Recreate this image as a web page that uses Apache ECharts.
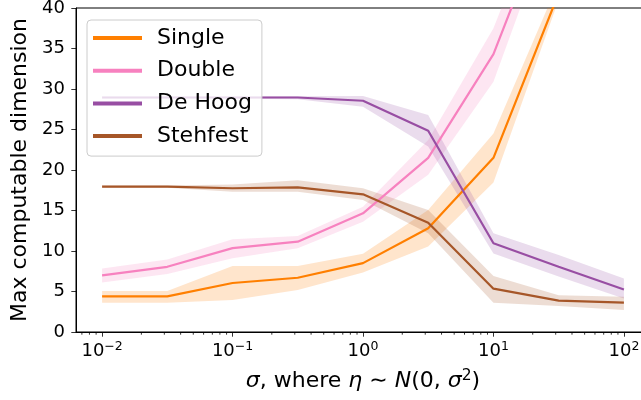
<!DOCTYPE html>
<html>
<head>
<meta charset="utf-8">
<script src="https://cdn.jsdelivr.net/npm/echarts@6/dist/echarts.min.js"></script>
<style>
  html, body { margin: 0; padding: 0; background: #fff; }
  #chart { width: 641px; height: 400px; }
</style>
</head>
<body>
<div id="chart"></div>
<script>
// noise levels (sigma)
const sigmas = [0.01, 0.0316, 0.1, 0.316, 1, 3.16, 10, 31.6, 100]

// mean lines
const singleMean = [4.4, 4.4, 6.05, 6.7, 8.5, 12.8, 21.5, 41.8, 60]
const doubleMean = [7.0, 8.05, 10.35, 11.15, 14.65, 21.5, 34.3, 55, 70]
const deHoogMean = [28.95, 28.95, 28.95, 28.95, 28.55, 24.85, 10.95, 8.05, 5.25]
const stehfestMean = [17.95, 17.95, 17.75, 17.85, 17.0, 13.5, 5.35, 3.87, 3.62]

// shaded bands (lower / upper)
const singleLow = [3.62, 3.62, 3.95, 5.2, 7.35, 10.55, 18.45, 41, 58]
const singleHigh = [5.05, 5.05, 8.15, 8.15, 9.65, 15.05, 24.5, 43.2, 62]
const doubleLow = [6.1, 7.15, 9.1, 10.35, 13.6, 19.4, 30.9, 53, 68]
const doubleHigh = [7.85, 8.95, 11.45, 11.85, 15.45, 23.7, 37.5, 58, 72]
const deHoogLow = [28.8, 28.8, 28.8, 28.75, 27.8, 22.9, 9.7, 6.85, 4.15]
const deHoogHigh = [29.1, 29.1, 29.1, 29.1, 29.15, 26.8, 12.2, 9.5, 6.6]
const stehfestLow = [17.8, 17.8, 17.3, 17.3, 16.3, 12.2, 3.62, 3.2, 2.72]
const stehfestHigh = [18.1, 18.1, 18.2, 18.75, 17.75, 15.05, 6.9, 4.55, 4.35]

const seriesNames = ['Single', 'Double', 'De Hoog', 'Stehfest']
const colors = ['#ff7f00', '#f781bf', '#984ea3', '#a65628']
const bandColors = ['rgba(255,127,0,0.2)', 'rgba(247,129,191,0.2)', 'rgba(152,78,163,0.2)', 'rgba(166,86,40,0.2)']

// y ticks
const yTickStep = 5
// minor log ticks on x
const minorTicks = []
for (let k = -3; k <= 2; k++) {
  for (let m = 2; m <= 9; m++) {
    const v = m * Math.pow(10, k)
    if (v > Math.pow(10, -2.2) && v < Math.pow(10, 2.2)) minorTicks.push(v)
  }
}

const font = 'DejaVu Sans'
const means = [singleMean, doubleMean, deHoogMean, stehfestMean]
const lows = [singleLow, doubleLow, deHoogLow, stehfestLow]
const highs = [singleHigh, doubleHigh, deHoogHigh, stehfestHigh]

const pairs = (ys) => sigmas.map((s, i) => [s, ys[i]])

const series = []
// shaded bands as one polygon each, placed through the axes
seriesNames.forEach((name, k) => {
  series.push({
    type: 'custom',
    silent: true,
    data: [[sigmas[0], lows[k][0]]],
    renderItem: (params, api) => {
      const top = sigmas.map((s, i) => api.coord([s, highs[k][i]]))
      const bottom = sigmas.map((s, i) => api.coord([s, lows[k][i]])).reverse()
      const cs = params.coordSys
      return {
        type: 'polygon',
        shape: { points: top.concat(bottom) },
        style: { fill: bandColors[k] },
        clipPath: { type: 'rect', shape: { x: cs.x, y: cs.y, width: cs.width, height: cs.height } }
      }
    },
    z: 1
  })
})
// mean lines
seriesNames.forEach((name, k) => {
  series.push({
    name: name,
    type: 'line',
    data: pairs(means[k]),
    symbol: 'none',
    color: colors[k],
    lineStyle: { color: colors[k], width: 2.2 },
    z: 3
  })
})
// minor ticks under the x axis
series.push({
  type: 'custom',
  silent: true,
  clip: false,
  data: minorTicks.map(v => [v, 0]),
  renderItem: (params, api) => {
    const p = api.coord([api.value(0), 0])
    return {
      type: 'line',
      shape: { x1: p[0], y1: p[1], x2: p[0], y2: p[1] + 2.7 },
      style: { stroke: '#000', lineWidth: 0.8 }
    }
  },
  z: 5
})

const chart = echarts.init(document.getElementById('chart'))
chart.setOption({
  animation: false,
  backgroundColor: '#fff',
  textStyle: { fontFamily: font },
  grid: {
    left: 76, top: 8, width: 574, height: 324,
    containLabel: false,
    outerBoundsMode: 'none',
    show: true, borderColor: '#000', borderWidth: 1, backgroundColor: 'transparent'
  },
  legend: {
    data: seriesNames,
    left: 87,
    top: 20,
    orient: 'vertical',
    icon: 'rect',
    itemWidth: 49,
    itemHeight: 4,
    itemGap: 8.7,
    padding: [6, 10, 8, 6],
    backgroundColor: 'rgba(255,255,255,0.8)',
    borderColor: '#cccccc',
    borderWidth: 1,
    borderRadius: 4,
    textStyle: { fontFamily: font, fontSize: 22, color: '#000', lineHeight: 24, padding: [0, 0, 0, 10] }
  },
  xAxis: {
    type: 'log',
    logBase: 10,
    min: Math.pow(10, -2.2),
    max: Math.pow(10, 2.2),
    splitLine: { show: false },
    axisLine: { show: true, onZero: false, lineStyle: { color: '#000', width: 1 } },
    axisTick: { show: true, length: 4.7, lineStyle: { color: '#000', width: 0.8 } },
    minorTick: { show: false },
    axisLabel: {
      showMinLabel: false,
      showMaxLabel: false,
      margin: 8,
      color: '#000',
      formatter: (v) => {
        const e = Math.round(Math.log10(v))
        return '{b|10}{s|' + (e < 0 ? '\u2212' + (-e) : e) + '}'
      },
      rich: {
        b: { fontSize: 18, fontFamily: font, color: '#000' },
        s: { fontSize: 12.5, fontFamily: font, color: '#000', padding: [0, 0, 9, 0] }
      }
    },
    name: '{i|\u03c3}, where {i|\u03b7} \u223c {i|N}(0, {i|\u03c3}{s|2})',
    nameLocation: 'middle',
    nameGap: 36,
    nameTextStyle: {
      fontFamily: font,
      fontSize: 22,
      color: '#000',
      rich: {
        i: { fontSize: 22, fontFamily: font, fontStyle: 'italic', color: '#000' },
        s: { fontSize: 15.5, fontFamily: font, color: '#000', padding: [0, 0, 10, 0] }
      }
    }
  },
  yAxis: {
    type: 'value',
    min: 0,
    max: 40,
    interval: yTickStep,
    splitLine: { show: false },
    axisLine: { show: true, lineStyle: { color: '#000', width: 1 } },
    axisTick: { show: true, length: 4.7, lineStyle: { color: '#000', width: 0.8 } },
    axisLabel: { fontSize: 18, color: '#000', margin: 11, fontFamily: font },
    name: 'Max computable dimension',
    nameLocation: 'middle',
    nameGap: 39,
    nameTextStyle: { fontFamily: font, fontSize: 22, color: '#000' }
  },
  series: series
})
</script>
</body>
</html>
